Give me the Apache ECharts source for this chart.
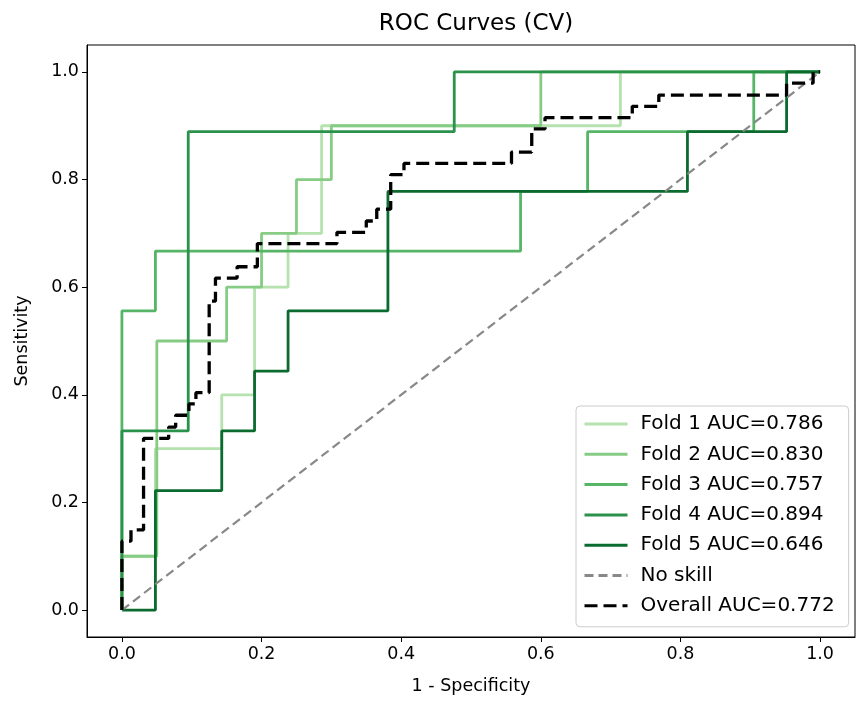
<!DOCTYPE html>
<html>
<head>
<meta charset="utf-8">
<script src="https://cdn.jsdelivr.net/npm/echarts@6/dist/echarts.min.js"></script>
<style>
  html, body { margin: 0; padding: 0; background: #fff; }
  #main { width: 856px; height: 703px; }
</style>
</head>
<body>
<div id="main"></div>
<script>
// ROC points per fold (fpr / tpr)
var fold1Fpr = [0, 0, 0.048, 0.048, 0.143, 0.143, 0.190, 0.190, 0.238, 0.238, 0.286, 0.286, 0.714, 0.714, 1];
var fold1Tpr = [0, 0.1, 0.1, 0.3, 0.3, 0.4, 0.4, 0.6, 0.6, 0.7, 0.7, 0.9, 0.9, 1, 1];

var fold2Fpr = [0, 0, 0.05, 0.05, 0.15, 0.15, 0.2, 0.2, 0.25, 0.25, 0.3, 0.3, 0.6, 0.6, 1];
var fold2Tpr = [0, 0.1, 0.1, 0.5, 0.5, 0.6, 0.6, 0.7, 0.7, 0.8, 0.8, 0.9, 0.9, 1, 1];

var fold3Fpr = [0, 0, 0.048, 0.048, 0.571, 0.571, 0.667, 0.667, 0.905, 0.905, 1];
var fold3Tpr = [0, 0.556, 0.556, 0.667, 0.667, 0.778, 0.778, 0.889, 0.889, 1, 1];

var fold4Fpr = [0, 0, 0.095, 0.095, 0.476, 0.476, 1];
var fold4Tpr = [0, 0.333, 0.333, 0.889, 0.889, 1, 1];

var fold5Fpr = [0, 0.048, 0.048, 0.143, 0.143, 0.190, 0.190, 0.238, 0.238, 0.381, 0.381, 0.810, 0.810, 0.952, 0.952, 1];
var fold5Tpr = [0, 0, 0.222, 0.222, 0.333, 0.333, 0.444, 0.444, 0.556, 0.556, 0.778, 0.778, 0.889, 0.889, 1, 1];

var overallFpr = [0, 0, 0.013, 0.013, 0.031, 0.031, 0.067, 0.067, 0.077, 0.077, 0.096, 0.096, 0.106, 0.106, 0.125, 0.125,
  0.134, 0.134, 0.165, 0.165, 0.194, 0.194, 0.308, 0.308, 0.35, 0.35, 0.365, 0.365, 0.385, 0.385, 0.404, 0.404,
  0.558, 0.558, 0.587, 0.587, 0.606, 0.606, 0.731, 0.731, 0.769, 0.769, 0.952, 0.952, 0.99, 0.99, 1];
var overallTpr = [0, 0.128, 0.128, 0.149, 0.149, 0.319, 0.319, 0.340, 0.340, 0.362, 0.362, 0.383, 0.383, 0.404, 0.404, 0.574,
  0.574, 0.617, 0.617, 0.638, 0.638, 0.681, 0.681, 0.702, 0.702, 0.723, 0.723, 0.745, 0.745, 0.809, 0.809, 0.830,
  0.830, 0.851, 0.851, 0.894, 0.894, 0.915, 0.915, 0.936, 0.936, 0.957, 0.957, 0.979, 0.979, 1, 1];

var noSkillX = [0, 1];
var noSkillY = [0, 1];

var foldNames = ['Fold 1 AUC=0.786', 'Fold 2 AUC=0.830', 'Fold 3 AUC=0.757', 'Fold 4 AUC=0.894', 'Fold 5 AUC=0.646'];
var foldColors = ['#b5e2ae', '#86cc85', '#56b567', '#2a924a', '#0b6b2f'];
var tickValues = [0, 0.2, 0.4, 0.6, 0.8, 1.0];

function zip(xs, ys) {
  return xs.map(function (x, i) { return [x, ys[i]]; });
}

var folds = [[fold1Fpr, fold1Tpr], [fold2Fpr, fold2Tpr], [fold3Fpr, fold3Tpr], [fold4Fpr, fold4Tpr], [fold5Fpr, fold5Tpr]];

var series = folds.map(function (f, i) {
  return {
    name: foldNames[i],
    type: 'line',
    data: zip(f[0], f[1]),
    symbol: 'none',
    color: foldColors[i],
    lineStyle: { width: 2.8, color: foldColors[i] },
    z: 2 + i
  };
});
series.push({
  name: 'No skill',
  type: 'line',
  data: zip(noSkillX, noSkillY),
  symbol: 'none',
  color: '#888888',
  lineStyle: { width: 2.2, type: [9, 5], color: '#888888' },
  z: 10
});
series.push({
  name: 'Overall AUC=0.772',
  type: 'line',
  data: zip(overallFpr, overallTpr),
  symbol: 'none',
  color: '#000000',
  lineStyle: { width: 3.3, type: [13, 6], color: '#000000' },
  z: 11
});

var font = 'DejaVu Sans';
var chart = echarts.init(document.getElementById('main'));

function valueAxis(extra) {
  var ax = {
    type: 'value',
    min: -0.05,
    max: 1.05,
    splitLine: { show: false },
    axisLine: { show: true, onZero: false, lineStyle: { color: '#000', width: 1 } },
    axisTick: { show: true, length: 5, customValues: tickValues, lineStyle: { color: '#000' } },
    axisLabel: {
      customValues: tickValues,
      color: '#000',
      fontSize: 17.5,
      fontFamily: font,
      margin: 8,
      formatter: function (v) { return v.toFixed(1); }
    },
    nameLocation: 'middle',
    nameTextStyle: { color: '#000', fontSize: 17.5, fontFamily: font }
  };
  return Object.assign(ax, extra);
}

var option = {
  animation: false,
  backgroundColor: '#fff',
  title: {
    text: 'ROC Curves (CV)',
    left: 471,
    top: 8,
    textAlign: 'center',
    textStyle: { color: '#000', fontSize: 23, fontWeight: 'normal', fontFamily: font }
  },
  grid: {
    left: 87, top: 45, width: 768, height: 592,
    show: true, borderColor: '#000', borderWidth: 1, backgroundColor: '#fff'
  },
  legend: {
    orient: 'vertical',
    left: 576,
    top: 406,
    padding: [7, 14, 10, 7],
    itemWidth: 43,
    itemHeight: 22,
    itemGap: 8.3,
    itemTextGap: 6,
    itemStyle: { opacity: 0 },
    lineStyle: { width: 3 },
    backgroundColor: 'rgba(255,255,255,0.85)',
    borderColor: '#cccccc',
    borderWidth: 1,
    borderRadius: 4,
    textStyle: { color: '#000', fontSize: 20, fontFamily: font, lineHeight: 22, padding: [0, 0, 0, 8] },
    data: foldNames.concat(['No skill', 'Overall AUC=0.772'])
  },
  xAxis: valueAxis({ name: '1 - Specificity', nameGap: 40 }),
  yAxis: valueAxis({ name: 'Sensitivity', nameGap: 56 }),
  series: series
};

chart.setOption(option);
</script>
</body>
</html>
